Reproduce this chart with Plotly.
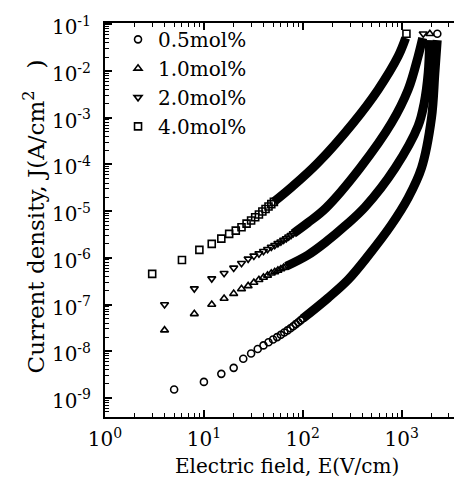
import plotly.graph_objects as go

# ---------------- data ----------------
series_names = ["0.5mol%", "1.0mol%", "2.0mol%", "4.0mol%"]
symbols = ["circle-open", "triangle-up-open", "triangle-down-open", "square-open"]

# individually visible markers (low field part + top end point)
e_05 = [5, 10, 15, 20, 25, 30, 35, 40, 45, 50, 55, 60, 65, 70, 75, 80, 85, 90, 95, 100, 2290]
j_05 = [1.51e-9, 2.2e-9, 3.27e-9, 4.39e-9, 6.9e-9, 8.9e-9, 1.11e-8, 1.33e-8, 1.55e-8, 1.78e-8,
        2.0e-8, 2.24e-8, 2.51e-8, 2.79e-8, 3.09e-8, 3.43e-8, 3.8e-8, 4.17e-8, 4.57e-8, 5.0e-8, 6.3e-2]

e_10 = [4, 8, 12, 16, 20, 24, 28, 32, 36, 40, 44, 48, 52, 56, 60, 64, 68, 1925]
j_10 = [2.82e-8, 6.3e-8, 1.0e-7, 1.34e-7, 1.71e-7, 2.16e-7, 2.5e-7, 2.95e-7, 3.39e-7, 3.8e-7,
        4.2e-7, 4.68e-7, 5.0e-7, 5.37e-7, 5.75e-7, 6.17e-7, 6.6e-7, 6.3e-2]

e_20 = [4, 8, 12, 16, 20, 24, 28, 32, 36, 40, 44, 48, 52, 56, 60, 64, 68, 72, 76, 80, 1650]
j_20 = [1.0e-7, 2.19e-7, 3.59e-7, 4.68e-7, 6.08e-7, 7.66e-7, 9.5e-7, 1.10e-6, 1.23e-6, 1.38e-6,
        1.53e-6, 1.70e-6, 1.86e-6, 2.04e-6, 2.21e-6, 2.40e-6, 2.60e-6, 2.82e-6, 3.05e-6, 3.31e-6, 6.3e-2]

e_40 = [3, 6, 9, 12, 15, 18, 21, 24, 27, 30, 33, 36, 39, 42, 45, 48, 51, 1116]
j_40 = [4.52e-7, 9.0e-7, 1.48e-6, 1.99e-6, 2.58e-6, 3.25e-6, 3.82e-6, 4.52e-6, 5.4e-6, 6.3e-6,
        7.4e-6, 8.5e-6, 9.8e-6, 1.11e-5, 1.26e-5, 1.41e-5, 1.58e-5, 6.3e-2]

# dense high-field part, where the markers merge into a solid band
band_e_05 = [100, 180, 286, 457, 787, 1161, 1586, 2000, 2164, 2285]
band_j_05 = [5.0e-8, 1.38e-7, 3.36e-7, 1.1e-6, 5.1e-6, 1.92e-5, 8.4e-5, 9.9e-4, 9.1e-3, 4.6e-2]

band_e_10 = [68, 112.7, 171.4, 267, 426, 857, 1466, 1687, 1852, 1918]
band_j_10 = [6.6e-7, 1.15e-6, 2.19e-6, 4.82e-6, 1.23e-5, 8.4e-5, 6.7e-4, 2.07e-3, 9.1e-3, 4.6e-2]

band_e_20 = [80, 112, 171.4, 379, 787, 1161, 1466, 1629]
band_j_20 = [3.31e-6, 5.6e-6, 1.17e-5, 8.4e-5, 7.7e-4, 4.0e-3, 2.07e-2, 5.1e-2]

band_e_40 = [51, 77.6, 142, 322, 577, 920, 1096]
band_j_40 = [1.58e-5, 3.30e-5, 1.08e-4, 7.7e-4, 4.0e-3, 2.07e-2, 5.1e-2]

x_tickvals = [1, 10, 100, 1000]
x_ticktext = ["10<sup>0</sup>", "10<sup>1</sup>", "10<sup>2</sup>", "10<sup>3</sup>"]
y_tickvals = [1e-9, 1e-8, 1e-7, 1e-6, 1e-5, 1e-4, 1e-3, 1e-2, 1e-1]
y_ticktext = ["10<sup>-9</sup>", "10<sup>-8</sup>", "10<sup>-7</sup>", "10<sup>-6</sup>",
              "10<sup>-5</sup>", "10<sup>-4</sup>", "10<sup>-3</sup>", "10<sup>-2</sup>", "10<sup>-1</sup>"]

x_title = "Electric field, E(V/cm)"
y_title = "Current density, J(A/cm<sup>2</sup>\u00a0\u00a0\u00a0)"

# ---------------- figure ----------------
FONT = "DejaVu Serif"
fig = go.Figure()

bands = [(band_e_05, band_j_05), (band_e_10, band_j_10), (band_e_20, band_j_20), (band_e_40, band_j_40)]
for bx, by in bands:
    fig.add_trace(go.Scatter(x=bx, y=by, mode="lines", showlegend=False, hoverinfo="skip",
                             line=dict(color="black", width=9, shape="spline", smoothing=1.0)))

pts = [(e_05, j_05), (e_10, j_10), (e_20, j_20), (e_40, j_40)]
for (px, py), name, sym in zip(pts, series_names, symbols):
    fig.add_trace(go.Scatter(x=px, y=py, mode="markers", name=name,
                             marker=dict(symbol=sym, size=7, color="black",
                                         line=dict(color="black", width=1.6))))

axis_common = dict(
    type="log", showline=True, linecolor="black", linewidth=2, mirror="allticks",
    ticks="inside", ticklen=7, tickwidth=1.5, tickcolor="black", showgrid=False, zeroline=False,
    tickmode="array", tickfont=dict(family=FONT, size=20, color="black"),
    minor=dict(ticks="inside", ticklen=4, tickwidth=1, tickcolor="black", dtick="D1", showgrid=False),
)

fig.update_layout(
    width=462, height=479,
    margin=dict(l=97, r=3, t=15, b=70, autoexpand=False),
    paper_bgcolor="white", plot_bgcolor="white",
    font=dict(family=FONT, color="black"),
    xaxis=dict(range=[0, 3.66], tickvals=x_tickvals, ticktext=x_ticktext,
               ticklabelstandoff=3, **axis_common),
    yaxis=dict(range=[-9.41, -0.97], tickvals=y_tickvals, ticktext=y_ticktext,
               ticklabelstandoff=8, ticklabelshift=3, **axis_common),
    legend=dict(x=0.036, y=1.008, xanchor="left", yanchor="top", bgcolor="rgba(0,0,0,0)",
                font=dict(family=FONT, size=20, color="black"), itemsizing="trace"),
    showlegend=True,
    annotations=[
        dict(text=x_title, xref="paper", yref="paper", x=0.504, y=-0.124, showarrow=False,
             xanchor="center", yanchor="middle", font=dict(family=FONT, size=20, color="black")),
        dict(text=y_title, xref="paper", yref="paper", x=-0.195, y=0.51, showarrow=False,
             textangle=-90, xanchor="center", yanchor="middle",
             font=dict(family=FONT, size=23, color="black")),
    ],
)

fig.write_html("out.html")
